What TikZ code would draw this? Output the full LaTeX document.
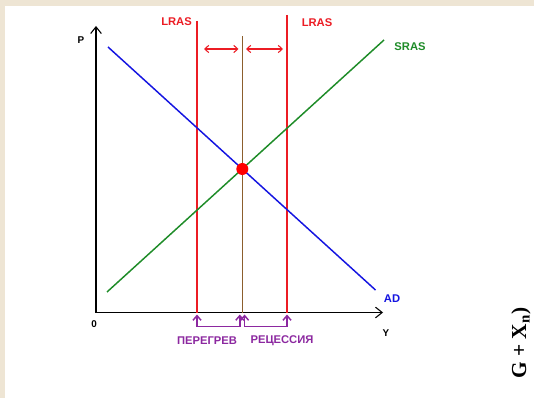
\documentclass[tikz,border=0pt]{standalone}
\usepackage{fontspec}
\setmainfont{Liberation Sans}
\newfontfamily\fragfont{Liberation Serif}
\usetikzlibrary{arrows.meta}
\definecolor{bgbeige}{RGB}{238,229,212}
\definecolor{lrasred}{RGB}{236,28,36}
\definecolor{adblue}{RGB}{20,20,225}
\definecolor{srasgreen}{RGB}{30,140,40}
\definecolor{midbrown}{RGB}{140,95,45}
\definecolor{bracketpurple}{RGB}{140,40,160}
\begin{document}
\begin{tikzpicture}[x=0.75pt,y=-0.75pt,
  lbl/.style={font=\fontsize{8.4}{10}\selectfont\bfseries, inner sep=0pt},
  axlbl/.style={font=\fontsize{7.4}{9}\selectfont\bfseries, inner sep=0pt},
  axisline/.style={line width=0.9pt, -{Straight Barb[length=5pt,width=8pt,line width=0.8pt]}},
  lrasline/.style={lrasred, line width=1.3pt},
  shiftarrow/.style={lrasred, line width=0.8pt, {Straight Barb[length=3pt,width=5.5pt]}-{Straight Barb[length=3pt,width=5.5pt]}},
  brk/.style={bracketpurple, line width=1.1pt},
  brkarrow/.style={bracketpurple, line width=1.1pt, -{Straight Barb[length=3.5pt,width=6pt]}}
]
\useasboundingbox (0,0) rectangle (534,398);
\fill[bgbeige] (0,0) rectangle (534,398);
\fill[white] (5,6) rectangle (534,398);

% axes
\coordinate (O) at (96,312.5);
\coordinate (Ptop) at (96,26);
\coordinate (Yend) at (383,312.5);
\draw[axisline] (O) -- (Ptop);
\draw[axisline] (O) -- (Yend);
\node[axlbl] (plbl) at (81,40.5) {P};
\node[axlbl] (zlbl) at (94,324) {0};
\node[axlbl] (ylbl) at (386,333) {Y};

% LRAS lines
\coordinate (L1top) at (197,21);
\coordinate (L1bot) at (197,313);
\coordinate (L2top) at (287,15);
\coordinate (L2bot) at (287,313);
\coordinate (Mtop) at (242.3,36.5);
\coordinate (Mbot) at (242.3,313);
\draw[lrasline] (L1top) -- (L1bot);
\draw[lrasline] (L2top) -- (L2bot);
\draw[midbrown, line width=0.6pt] (Mtop) -- (Mbot);
\node[lbl, text=lrasred] (lras1) at (176.5,21.7) {LRAS};
\node[lbl, text=lrasred] (lras2) at (317,22.3) {LRAS};

% shift arrows
\coordinate (a1l) at (204,49);
\coordinate (a1r) at (238.5,49);
\coordinate (a2l) at (246,49);
\coordinate (a2r) at (283,49);
\draw[shiftarrow] (a1l) -- (a1r);
\draw[shiftarrow] (a2l) -- (a2r);

% AD and SRAS
\coordinate (ADs) at (108,47);
\coordinate (ADe) at (375.5,290);
\coordinate (SRs) at (107,292);
\coordinate (SRe) at (384,40);
\draw[adblue, line width=1.1pt] (ADs) -- (ADe);
\draw[srasgreen, line width=1.1pt] (SRs) -- (SRe);
\node[lbl, text=srasgreen] (sraslbl) at (410,46.5) {SRAS};
\node[lbl, text=adblue] (adlbl) at (392,299) {AD};

% equilibrium
\node[circle, fill=red, inner sep=0pt, minimum size=9pt] (eq) at (242.3,169) {};

% brackets
\coordinate (b1a) at (197,326.7);
\coordinate (b1b) at (239.8,326.7);
\coordinate (t1a) at (197,314.5);
\coordinate (t1b) at (239.8,314.5);
\coordinate (b2a) at (244.6,326.7);
\coordinate (b2b) at (287,326.7);
\coordinate (t2a) at (244.6,314.5);
\coordinate (t2b) at (287,314.5);
\draw[brk] (b1a) -- (b1b);
\draw[brkarrow] (b1a) -- (t1a);
\draw[brkarrow] (b1b) -- (t1b);
\draw[brk] (b2a) -- (b2b);
\draw[brkarrow] (b2a) -- (t2a);
\draw[brkarrow] (b2b) -- (t2b);
\node[lbl, text=bracketpurple] (over) at (207,341) {ПЕРЕГРЕВ};
\node[lbl, text=bracketpurple] (rec) at (282,341) {РЕЦЕССИЯ};

% fragment on the right
\node[rotate=90, inner sep=0pt, font=\fragfont\fontsize{16}{18}\selectfont\bfseries] (frag) at (521,343) {G + X\textsubscript{n})};
\end{tikzpicture}
\end{document}
